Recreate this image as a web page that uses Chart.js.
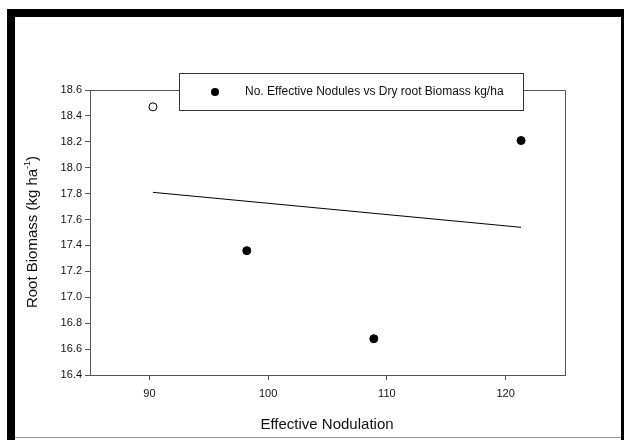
<!DOCTYPE html>
<html>
<head>
<meta charset="utf-8">
<script src="https://cdn.jsdelivr.net/npm/chart.js@4.4.1/dist/chart.umd.min.js"></script>
<style>
html,body{margin:0;padding:0;background:#fff;}
#wrap{width:624px;height:440px;position:relative;}
</style>
</head>
<body>
<div id="wrap"><canvas id="c" width="624" height="440"></canvas></div>
<script>
// Data
const filledX = [98.2, 108.9, 121.3];
const filledY = [17.36, 16.68, 18.21];
const openX = [90.3];
const openY = [18.47];
const fitX = [90.3, 121.3];
const fitY = [17.81, 17.54];
const xTicks = [90, 100, 110, 120];
const yTicks = [16.4, 16.6, 16.8, 17.0, 17.2, 17.4, 17.6, 17.8, 18.0, 18.2, 18.4, 18.6];
const legendLabel = 'No. Effective Nodules vs Dry root Biomass kg/ha';
const xTitle = 'Effective Nodulation';
const yTitleMain = 'Root Biomass (kg ha';
const yTitleSup = '-1';
const yTitleEnd = ')';

const toPts = (xs, ys) => xs.map((x, i) => ({x: x, y: ys[i]}));
const FONT = '"Liberation Sans", Arial, sans-serif';
const AXIS = '#555';

const framePlugin = {
  id: 'frame',
  beforeDraw(chart) {
    const ctx = chart.ctx;
    ctx.save();
    ctx.fillStyle = '#fff';
    ctx.fillRect(0, 0, 624, 440);
    ctx.fillStyle = '#000';
    ctx.fillRect(7, 9, 617, 8);
    ctx.fillRect(7, 9, 8, 431);
    ctx.fillRect(621, 9, 3, 431);
    ctx.fillStyle = '#999';
    ctx.fillRect(15, 437, 606, 1);
    ctx.restore();
  },
  afterDatasetsDraw(chart) {
    const ctx = chart.ctx;
    const a = chart.chartArea;
    ctx.save();
    // top and right frame lines
    ctx.strokeStyle = AXIS;
    ctx.lineWidth = 1;
    ctx.beginPath();
    ctx.moveTo(a.left, Math.round(a.top) + 0.5);
    ctx.lineTo(Math.round(a.right) + 0.5, Math.round(a.top) + 0.5);
    ctx.lineTo(Math.round(a.right) + 0.5, a.bottom);
    ctx.stroke();
    // legend box
    const bx = 179, by = 73, bw = 344, bh = 37;
    ctx.fillStyle = '#fff';
    ctx.fillRect(bx, by, bw, bh);
    ctx.strokeStyle = '#333';
    ctx.strokeRect(bx + 0.5, by + 0.5, bw, bh);
    ctx.fillStyle = '#000';
    ctx.beginPath();
    ctx.arc(215, 92, 4, 0, Math.PI * 2);
    ctx.fill();
    ctx.font = '12px ' + FONT;
    ctx.textBaseline = 'middle';
    ctx.textAlign = 'left';
    ctx.fillStyle = '#111';
    ctx.fillText(legendLabel, 245, 92);
    // x title
    ctx.font = '15px ' + FONT;
    ctx.textAlign = 'center';
    ctx.fillText(xTitle, 327, 425);
    // y title with superscript
    ctx.translate(33, 232);
    ctx.rotate(-Math.PI / 2);
    ctx.font = '15px ' + FONT;
    const w1 = ctx.measureText(yTitleMain).width;
    ctx.font = '9px ' + FONT;
    const w2 = ctx.measureText(yTitleSup).width;
    ctx.font = '15px ' + FONT;
    const w3 = ctx.measureText(yTitleEnd).width;
    const total = w1 + w2 + w3;
    let x0 = -total / 2;
    ctx.textAlign = 'left';
    ctx.fillText(yTitleMain, x0, 0);
    ctx.font = '9px ' + FONT;
    ctx.fillText(yTitleSup, x0 + w1, -5);
    ctx.font = '15px ' + FONT;
    ctx.fillText(yTitleEnd, x0 + w1 + w2, 0);
    ctx.restore();
  }
};

new Chart(document.getElementById('c'), {
  type: 'scatter',
  data: {
    datasets: [
      {
        label: legendLabel,
        data: toPts(filledX, filledY),
        backgroundColor: '#000',
        borderColor: '#000',
        pointRadius: 4,
        pointHoverRadius: 4
      },
      {
        label: 'open',
        data: toPts(openX, openY),
        backgroundColor: '#fff',
        borderColor: '#000',
        borderWidth: 1,
        pointRadius: 4
      },
      {
        label: 'fit',
        data: toPts(fitX, fitY),
        showLine: true,
        borderColor: '#000',
        borderWidth: 1,
        pointRadius: 0,
        fill: false
      }
    ]
  },
  options: {
    responsive: false,
    animation: false,
    events: [],
    layout: {padding: {left: 0, top: 90, right: 59, bottom: 0}},
    plugins: {legend: {display: false}, tooltip: {enabled: false}},
    scales: {
      x: {
        type: 'linear',
        min: 85, max: 125,
        afterBuildTicks(s) { s.ticks = xTicks.map(v => ({value: v})); },
        afterFit(s) { s.height = 65; },
        grid: {drawOnChartArea: false, drawTicks: true, tickLength: 5, color: AXIS},
        border: {color: AXIS, width: 1},
        ticks: {color: '#111', font: {family: FONT, size: 11}, padding: 7, maxRotation: 0}
      },
      y: {
        type: 'linear',
        min: 16.4, max: 18.6,
        afterBuildTicks(s) { s.ticks = yTicks.map(v => ({value: v})); },
        afterFit(s) { s.width = 90; },
        grid: {drawOnChartArea: false, drawTicks: true, tickLength: 5, color: AXIS},
        border: {color: AXIS, width: 1},
        ticks: {color: '#111', font: {family: FONT, size: 11}, padding: 3, callback: v => Number(v).toFixed(1)}
      }
    }
  },
  plugins: [framePlugin]
});
</script>
</body>
</html>
